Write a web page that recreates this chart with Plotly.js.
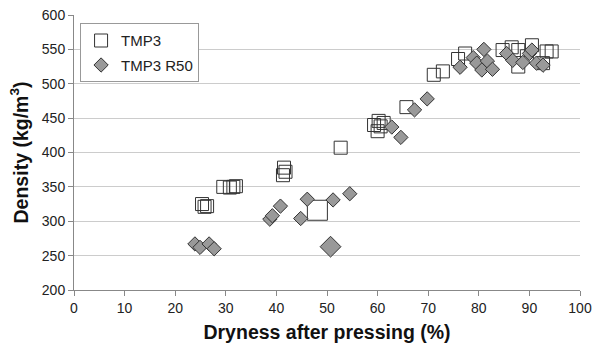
<!DOCTYPE html>
<html><head><meta charset="utf-8">
<script src="https://cdn.plot.ly/plotly-3.0.1.min.js"></script>
<style>body{margin:0;background:#fff}#c{width:596px;height:354px}</style>
</head><body><div id="c"></div>
<script>
// TMP3 (open squares)
const tmp3X = [25.3,25.8,26.3, 29.5,30.8,31.5,32.0, 41.3,41.8,41.5, 52.7,
  59.3,60.2,60.6,60.0,61.2, 65.7, 71.1,72.9, 75.9,77.3,
  84.7,86.5,87.8,87.8,90.5,93.4,94.4,92.7,89.5];
const tmp3Y = [325,321,322, 350,349,350,351, 367,372,378, 407,
  440,446,438,431,443, 466, 513,518, 536,544,
  549,553,549,525,556,547,547,530,540];
// big TMP3 point
const tmp3BigX = [48.1];
const tmp3BigY = [316];

// TMP3 R50 (gray diamonds)
const r50X = [23.9,24.9,26.7,27.7, 38.7,39.2,40.8, 44.8,46.1,51.2,54.5,
  62.8,64.6,67.3,69.8, 76.3,
  78.9,79.6,80.6,81.0,81.7,82.7,
  85.5,86.7,88.7,90.0,90.5,91.4,92.7];
const r50Y = [267,262,267,260, 303,308,322, 304,332,331,340,
  437,422,462,478, 524,
  538,530,520,550,533,521,
  544,534,531,544,549,530,527];
const r50BigX = [50.7];
const r50BigY = [263];

const line = {color:'#333', width:1};
const traces = [
  {x:tmp3X, y:tmp3Y, mode:'markers', name:'TMP3', type:'scatter', legendgroup:'a',
   marker:{symbol:'square-open', size:13, color:'#333', line:{color:'#333', width:1}}},
  {x:tmp3BigX, y:tmp3BigY, mode:'markers', name:'TMP3', showlegend:false, type:'scatter', legendgroup:'a',
   marker:{symbol:'square-open', size:20, color:'#333', line:{color:'#333', width:1}}},
  {x:r50X, y:r50Y, mode:'markers', name:'TMP3 R50', type:'scatter', legendgroup:'b',
   marker:{symbol:'diamond', size:11, color:'#999', line:line}},
  {x:r50BigX, y:r50BigY, mode:'markers', name:'TMP3 R50', showlegend:false, type:'scatter', legendgroup:'b',
   marker:{symbol:'diamond', size:16, color:'#999', line:line}}
];
const layout = {
  width:596, height:354,
  margin:{l:74, r:16, t:15, b:64},
  paper_bgcolor:'#fff', plot_bgcolor:'#fff',
  font:{family:'Liberation Sans, Arial, sans-serif', color:'#222', size:14},
  showlegend:true,
  legend:{x:0.012, y:0.97, xanchor:'left', yanchor:'top', bordercolor:'#999', borderwidth:1,
    bgcolor:'#fff', font:{size:15, color:'#222'}, traceorder:'grouped', tracegroupgap:2},
  xaxis:{range:[0,100], dtick:10, showgrid:false, zeroline:false, showline:true,
    linecolor:'#888', ticks:'outside', ticklen:5, tickcolor:'#888',
    title:{text:'<b>Dryness after pressing (%)</b>', font:{size:19.5, color:'#111'}, standoff:10}},
  yaxis:{range:[200,600], dtick:50, showgrid:true, gridcolor:'#ccc', zeroline:false, showline:true,
    linecolor:'#888', ticks:'outside', ticklen:5, tickcolor:'#888',
    title:{text:'<b>Density (kg/m<sup>3</sup>)</b>', font:{size:19.5, color:'#111'}, standoff:8}}
};
Plotly.newPlot('c', traces, layout, {displayModeBar:false, staticPlot:true});
</script></body></html>
